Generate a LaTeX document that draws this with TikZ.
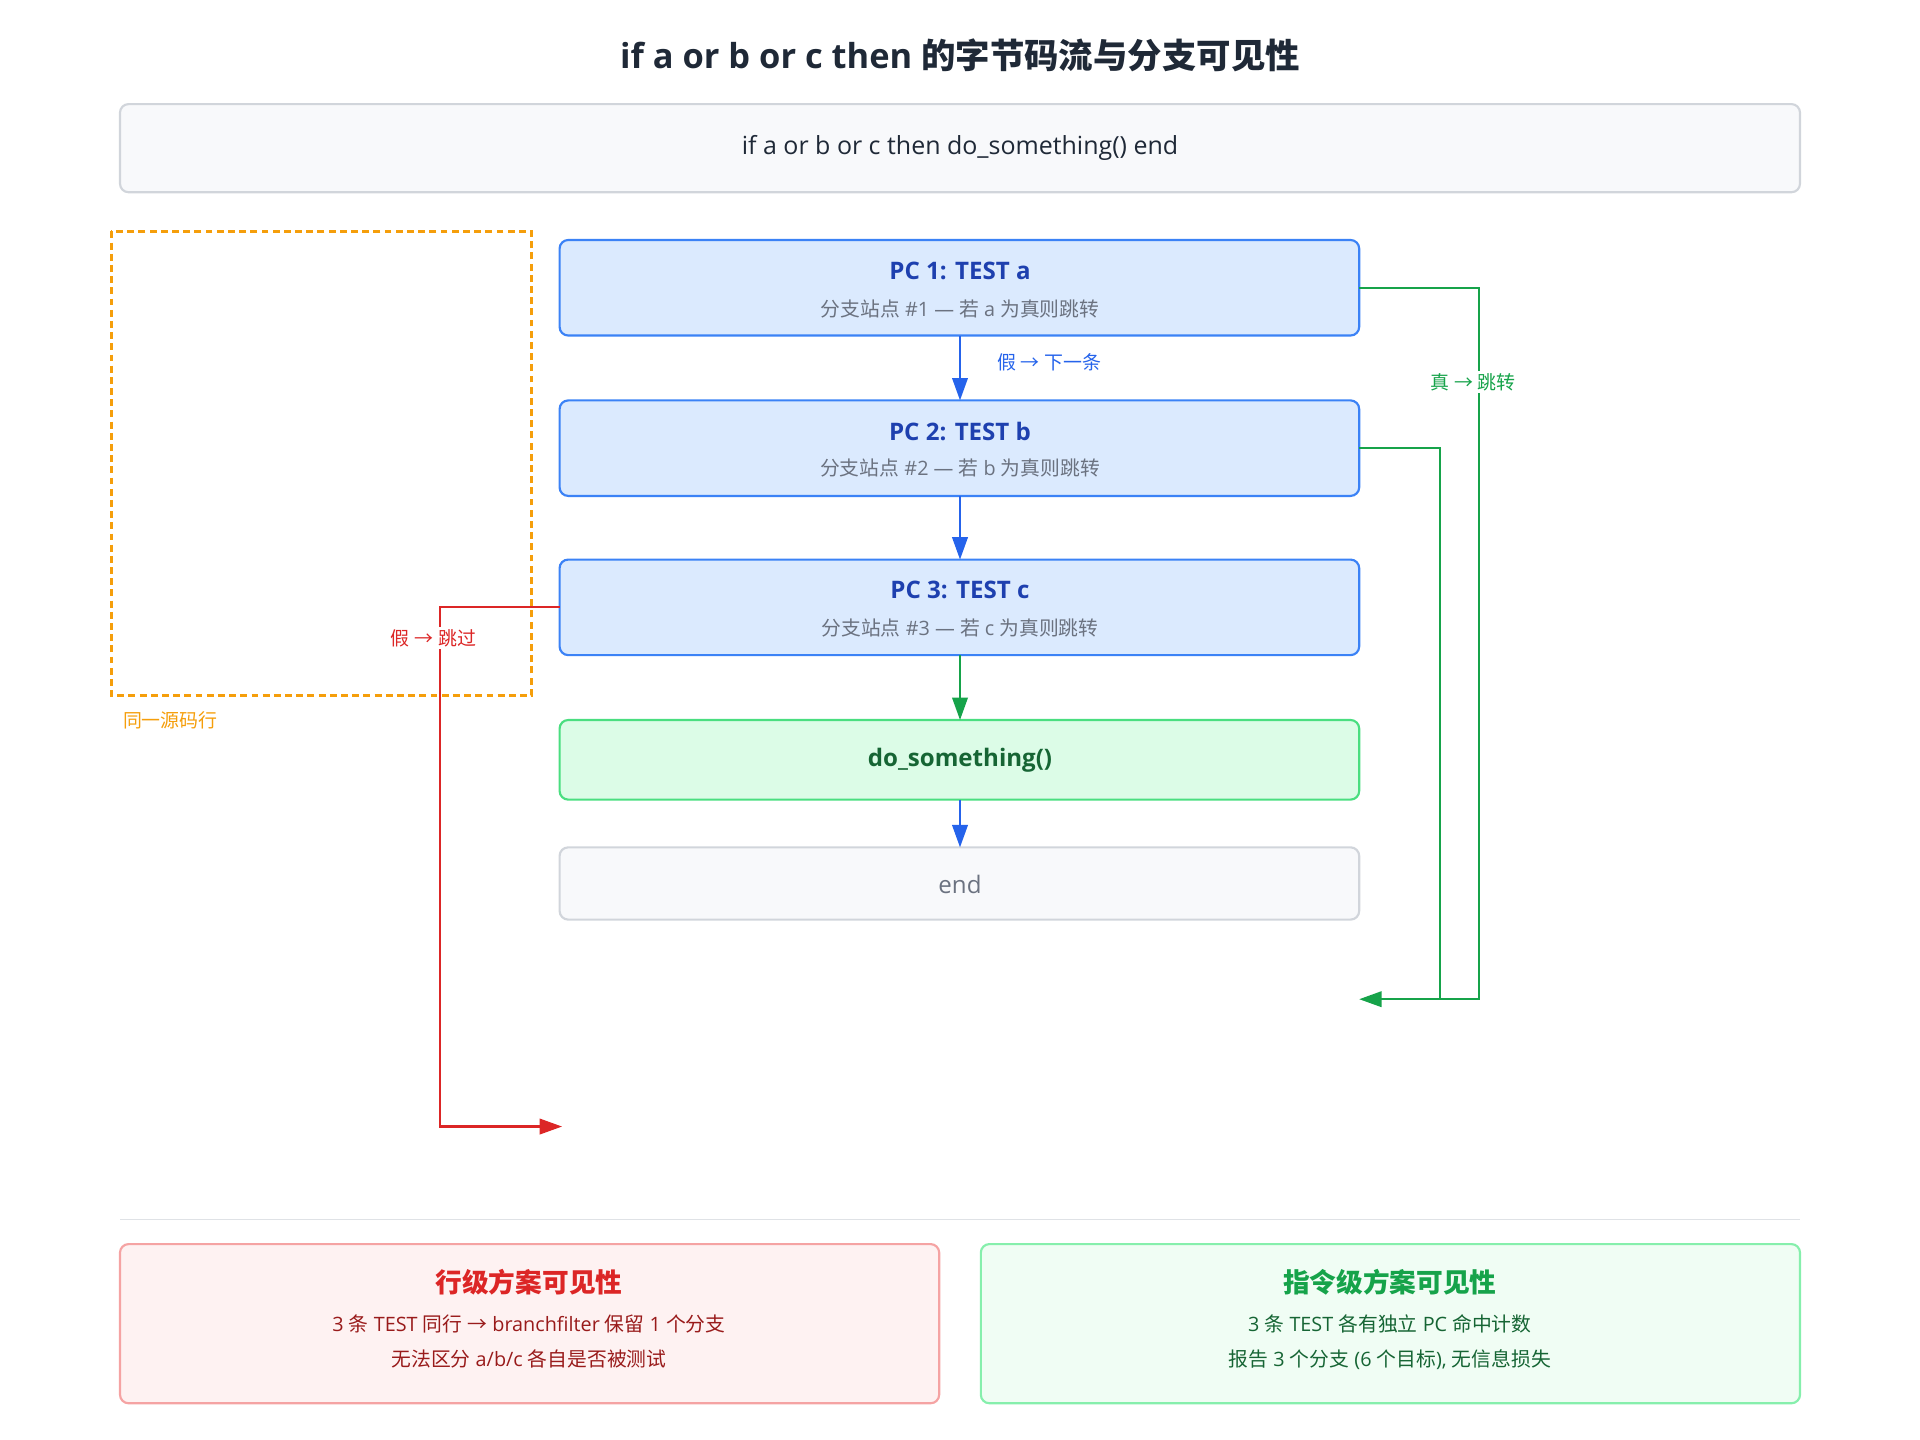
\documentclass[tikz,border=0pt]{standalone}
\usepackage{fontspec}
\setmainfont{Open Sans}
\newfontfamily\cjk{Noto Sans CJK SC}
\usetikzlibrary{arrows.meta}
\definecolor{bluefill}{HTML}{DBEAFE}\definecolor{bluedraw}{HTML}{3B82F6}
\definecolor{bluetxt}{HTML}{1E40AF}\definecolor{arrblue}{HTML}{2563EB}
\definecolor{graytxt}{HTML}{6B7280}\definecolor{grayfill}{HTML}{F8F9FB}
\definecolor{graydraw}{HTML}{D1D5DB}\definecolor{gfill}{HTML}{DCFCE7}
\definecolor{gdraw}{HTML}{4ADE80}\definecolor{gtxt}{HTML}{166534}
\definecolor{garr}{HTML}{16A34A}\definecolor{rarr}{HTML}{DC2626}
\definecolor{rfill}{HTML}{FEF2F2}\definecolor{rdraw}{HTML}{F5A3A3}
\definecolor{rtxt}{HTML}{991B1B}\definecolor{g2fill}{HTML}{F0FDF4}
\definecolor{g2draw}{HTML}{86EFAC}\definecolor{orng}{HTML}{F59E0B}
\definecolor{dark}{HTML}{1F2937}
\newcommand{\ra}{{\cjk →}}
\begin{document}
\begin{tikzpicture}[x=0.05cm,y=-0.05cm,
 box/.style={rounded corners=10pt,line width=2.5pt},
 pc/.style={box,draw=bluedraw,fill=bluefill},
 t1/.style={font=\fontsize{28}{32}\selectfont\bfseries,text=bluetxt},
 t2/.style={font=\fontsize{23}{27}\selectfont,text=graytxt},
 arr/.style={line width=2.5pt,-{Triangle[length=26pt,width=18pt]}},
 lbl/.style={font=\fontsize{22}{26}\selectfont}]
\useasboundingbox (0,0) rectangle (1568,1176);
\node[font=\fontsize{40}{44}\selectfont\bfseries,text=dark] (title) at (784,45) {if a or b or c then {\cjk\bfseries 的字节码流与分支可见性}};
\draw[box,draw=graydraw,fill=grayfill] (98,85) rectangle (1470,157);
\node[font=\fontsize{29}{32}\selectfont,text=dark] (code) at (784,121) {if a or b or c then do\_something() end};
\draw[orng,line width=2.5pt,dash pattern=on 8pt off 5pt] (91,189) rectangle (434,568);
\node[lbl,text=orng,anchor=west] (same) at (98,588) {\cjk 同一源码行};
\draw[pc] (457,196) rectangle (1110,274); \coordinate (p1r) at (1110,235); \coordinate (p1b) at (784,274);
\node[t1] at (784,221) {PC 1: TEST a}; \node[t2] at (784,252) {{\cjk 分支站点} \#1 — {\cjk 若} a {\cjk 为真则跳转}};
\draw[pc] (457,327) rectangle (1110,405); \coordinate (p2t) at (784,327); \coordinate (p2b) at (784,405); \coordinate (p2r) at (1110,366);
\node[t1] at (784,352) {PC 2: TEST b}; \node[t2] at (784,382) {{\cjk 分支站点} \#2 — {\cjk 若} b {\cjk 为真则跳转}};
\draw[pc] (457,457) rectangle (1110,535); \coordinate (p3t) at (784,457); \coordinate (p3b) at (784,535); \coordinate (p3l) at (457,496);
\node[t1] at (784,482) {PC 3: TEST c}; \node[t2] at (784,513) {{\cjk 分支站点} \#3 — {\cjk 若} c {\cjk 为真则跳转}};
\draw[box,draw=gdraw,fill=gfill] (457,588) rectangle (1110,653); \coordinate (dt) at (784,588); \coordinate (db) at (784,653);
\node[font=\fontsize{28}{32}\selectfont\bfseries,text=gtxt] at (784,621) {do\_something()};
\draw[box,draw=graydraw,fill=grayfill] (457,692) rectangle (1110,751); \coordinate (et) at (784,692);
\node[font=\fontsize{28}{32}\selectfont,text=graytxt] at (784,722) {end};
\draw[arr,arrblue] (p1b) -- (p2t);
\node[lbl,text=arrblue] at (857,296) {{\cjk 假} \ra{} {\cjk 下一条}};
\draw[arr,arrblue] (p2b) -- (p3t);
\draw[arr,garr] (p3b) -- (dt);
\draw[arr,arrblue] (db) -- (et);
\coordinate (tj) at (1110,816);
\draw[arr,garr] (p1r) -- (1208,235) -- (1208,816) -- (tj);
\draw[line width=2.5pt,garr] (p2r) -- (1176,366) -- (1176,816);
\node[lbl,text=garr,fill=white,inner sep=3pt] at (1203,312) {{\cjk 真} \ra{} {\cjk 跳转}};
\coordinate (fj) at (459,920);
\draw[arr,rarr] (p3l) -- (359,496) -- (359,920) -- (fj);
\node[lbl,text=rarr,fill=white,inner sep=3pt] at (354,521) {{\cjk 假} \ra{} {\cjk 跳过}};
\draw[graydraw!70,line width=1.5pt] (98,996) -- (1470,996);
\draw[box,draw=rdraw,fill=rfill] (98,1016) rectangle (767,1146);
\node[font=\fontsize{31}{34}\selectfont\cjk\bfseries,text=rarr] at (432,1047) {行级方案可见性};
\node[t2,text=rtxt] at (432,1081) {3 {\cjk 条} TEST {\cjk 同行} \ra{} branchfilter {\cjk 保留} 1 {\cjk 个分支}};
\node[t2,text=rtxt] at (432,1110) {{\cjk 无法区分} a/b/c {\cjk 各自是否被测试}};
\draw[box,draw=g2draw,fill=g2fill] (801,1016) rectangle (1470,1146);
\node[font=\fontsize{31}{34}\selectfont\cjk\bfseries,text=garr] at (1135,1047) {指令级方案可见性};
\node[t2,text=gtxt] at (1135,1081) {3 {\cjk 条} TEST {\cjk 各有独立} PC {\cjk 命中计数}};
\node[t2,text=gtxt] at (1135,1110) {{\cjk 报告} 3 {\cjk 个分支} (6 {\cjk 个目标}), {\cjk 无信息损失}};
\end{tikzpicture}
\end{document}
